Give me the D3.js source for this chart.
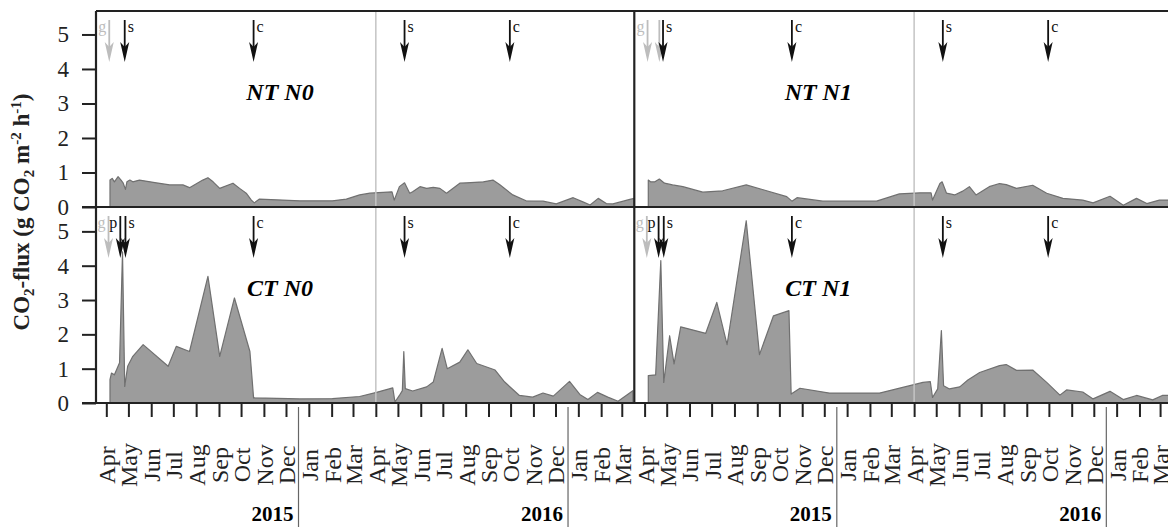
<!DOCTYPE html>
<html>
<head>
<meta charset="utf-8">
<script src="https://cdn.jsdelivr.net/npm/d3@7"></script>
<style>
	body { margin: 0; background: #fff; }
	svg { display: block; font-family: "Liberation Serif", "Times New Roman", serif; }
</style>
</head>
<body>
<svg id="chart" width="1168" height="527"></svg>
<script>
// sampling dates + CO2 flux (g CO2 m-2 h-1)
const ntN0Dates = ['2015-04-20','2015-04-23','2015-04-26','2015-05-01','2015-05-05','2015-05-08','2015-05-11','2015-05-13','2015-05-17','2015-05-21','2015-05-30','2015-06-22','2015-07-10','2015-07-28','2015-08-06','2015-08-24','2015-08-31','2015-09-07','2015-09-16','2015-10-04','2015-10-13','2015-10-22','2015-10-29','2015-11-02','2015-11-09','2016-01-03','2016-02-16','2016-03-06','2016-03-24','2016-04-07','2016-05-07','2016-05-10','2016-05-17','2016-05-24','2016-05-31','2016-06-04','2016-06-14','2016-06-23','2016-07-02','2016-07-11','2016-07-20','2016-08-07','2016-08-16','2016-09-08','2016-09-21','2016-09-30','2016-10-18','2016-11-05','2016-11-28','2016-12-16','2017-01-08','2017-01-22','2017-01-31','2017-02-11','2017-02-22','2017-03-03','2017-03-26','2017-04-01'];
const ntN0Flux = [0.78,0.83,0.73,0.88,0.78,0.69,0.51,0.73,0.78,0.73,0.78,0.70,0.64,0.64,0.56,0.78,0.85,0.73,0.54,0.69,0.54,0.40,0.20,0.12,0.23,0.18,0.18,0.23,0.35,0.40,0.44,0.20,0.59,0.70,0.40,0.44,0.59,0.54,0.57,0.54,0.40,0.69,0.70,0.73,0.78,0.65,0.35,0.18,0.17,0.09,0.27,0.14,0.06,0.25,0.10,0.09,0.22,0.25];

const ntN1Dates = ['2015-04-20','2015-04-23','2015-04-29','2015-05-05','2015-05-12','2015-05-23','2015-06-06','2015-07-03','2015-07-30','2015-08-31','2015-09-23','2015-10-25','2015-11-01','2015-11-08','2015-12-13','2016-02-24','2016-03-26','2016-04-23','2016-05-08','2016-05-10','2016-05-20','2016-05-23','2016-05-29','2016-06-09','2016-06-20','2016-06-29','2016-07-08','2016-07-26','2016-08-09','2016-08-18','2016-09-01','2016-09-23','2016-10-12','2016-11-03','2016-11-30','2016-12-14','2017-01-06','2017-01-24','2017-02-11','2017-02-25','2017-03-14','2017-03-31'];
const ntN1Flux = [0.78,0.73,0.73,0.81,0.69,0.64,0.59,0.43,0.47,0.64,0.50,0.30,0.17,0.27,0.17,0.17,0.38,0.41,0.41,0.20,0.68,0.73,0.40,0.35,0.46,0.59,0.35,0.59,0.68,0.65,0.54,0.63,0.40,0.25,0.20,0.12,0.31,0.05,0.25,0.10,0.20,0.20];

const ctN0Dates = ['2015-04-20','2015-04-22','2015-04-26','2015-05-03','2015-05-07','2015-05-10','2015-05-14','2015-05-21','2015-06-04','2015-07-08','2015-07-19','2015-08-06','2015-08-31','2015-09-16','2015-10-06','2015-10-27','2015-11-01','2016-01-03','2016-02-16','2016-03-24','2016-04-16','2016-05-08','2016-05-11','2016-05-17','2016-05-21','2016-05-23','2016-05-25','2016-06-04','2016-06-23','2016-07-02','2016-07-14','2016-07-21','2016-08-07','2016-08-18','2016-08-30','2016-09-24','2016-10-07','2016-10-27','2016-11-14','2016-11-28','2016-12-12','2017-01-03','2017-01-17','2017-01-28','2017-02-10','2017-02-24','2017-03-10','2017-03-30'];
const ctN0Flux = [0.68,0.87,0.82,1.17,4.40,0.48,1.07,1.36,1.70,1.07,1.65,1.50,3.69,1.36,3.06,1.50,0.15,0.12,0.13,0.19,0.31,0.44,0.03,0.22,0.36,1.50,0.42,0.35,0.47,0.61,1.59,1.00,1.19,1.55,1.15,0.96,0.61,0.22,0.17,0.29,0.20,0.63,0.25,0.10,0.31,0.17,0.05,0.36];

const ctN1Dates = ['2015-04-20','2015-04-30','2015-05-07','2015-05-11','2015-05-19','2015-05-25','2015-06-03','2015-07-07','2015-07-22','2015-08-05','2015-08-31','2015-09-18','2015-10-07','2015-10-28','2015-10-31','2015-11-12','2015-12-22','2016-02-28','2016-04-27','2016-05-07','2016-05-10','2016-05-17','2016-05-22','2016-05-25','2016-06-02','2016-06-16','2016-06-27','2016-07-13','2016-08-09','2016-08-18','2016-09-01','2016-09-23','2016-10-12','2016-10-30','2016-11-08','2016-11-30','2016-12-14','2017-01-06','2017-01-24','2017-02-11','2017-03-05','2017-03-18','2017-03-31'];
const ctN1Flux = [0.80,0.82,4.15,0.60,1.96,1.14,2.22,2.03,2.93,1.70,5.31,1.41,2.54,2.69,0.26,0.43,0.29,0.29,0.60,0.62,0.16,0.41,2.11,0.50,0.41,0.47,0.67,0.89,1.09,1.12,0.95,0.96,0.60,0.23,0.38,0.32,0.12,0.34,0.10,0.22,0.09,0.22,0.22];

// management events: g = glyphosate, p = ploughing, s = sowing, c = harvest, n = (unlabelled, grey)
const ntEventDates = ['2015-04-19','2015-05-10','2015-11-01','2016-05-24','2016-10-14'];
const ntEventTypes = ['g','s','c','s','c'];
const ntN1EventDates = ['2015-04-19','2015-05-05','2015-05-10','2015-11-01','2016-05-24','2016-10-14'];
const ntN1EventTypes = ['g','n','s','c','s','c'];
const ctEventDates = ['2015-04-18','2015-05-04','2015-05-11','2015-11-01','2016-05-24','2016-10-14'];
const ctEventTypes = ['g','p','s','c','s','c'];

const yTicks = [0, 1, 2, 3, 4, 5];
const yearBreaks = ['2016-01-01', '2017-01-01'];
const yearLabels = ['2015', '2016'];
const panelTitles = ['NT N0', 'NT N1', 'CT N0', 'CT N1'];

const parse = d3.timeParse('%Y-%m-%d');
const frame = {left: 96, top: 11, mid: 207, bottom: 403, panelW: 538.3};
const colX = [frame.left, frame.left + frame.panelW];

const x = d3.scaleTime()
	.domain([parse('2015-04-01'), parse('2017-04-01')])
	.range([0, frame.panelW]);
const yTop = d3.scaleLinear().domain([0, 5.68]).range([frame.mid, frame.top]);
const yBot = d3.scaleLinear().domain([0, 5.71]).range([frame.bottom, frame.mid]);

const zip = (dates, vals) => dates.map((d, i) => ({date: parse(d), v: vals[i]}));
const ev = (dates, types) => dates.map((d, i) => ({date: parse(d), type: types[i]}));

const panels = [
	{title: panelTitles[0], col: 0, y: yTop, top: frame.top, data: zip(ntN0Dates, ntN0Flux), events: ev(ntEventDates, ntEventTypes)},
	{title: panelTitles[1], col: 1, y: yTop, top: frame.top, data: zip(ntN1Dates, ntN1Flux), events: ev(ntN1EventDates, ntN1EventTypes)},
	{title: panelTitles[2], col: 0, y: yBot, top: frame.mid, data: zip(ctN0Dates, ctN0Flux), events: ev(ctEventDates, ctEventTypes)},
	{title: panelTitles[3], col: 1, y: yBot, top: frame.mid, data: zip(ctN1Dates, ctN1Flux), events: ev(ctEventDates, ctEventTypes)},
];

const svg = d3.select('#chart');
const defs = svg.append('defs');

colX.forEach((cx, i) => {
	defs.append('clipPath').attr('id', 'clip' + i)
		.append('rect')
		.attr('x', 0).attr('y', frame.top)
		.attr('width', frame.panelW).attr('height', frame.bottom - frame.top);
});

const ARROW_GREY = '#bdbdbd';

panels.forEach(p => {
	const g = svg.append('g').attr('transform', `translate(${colX[p.col]},0)`);
	const body = g.append('g').attr('clip-path', `url(#clip${p.col})`);

	const area = d3.area()
		.x(d => x(d.date))
		.y0(p.y(0))
		.y1(d => p.y(d.v));

	body.append('path')
		.datum(p.data)
		.attr('d', area)
		.attr('fill', '#9c9c9c')
		.attr('stroke', '#707070')
		.attr('stroke-width', 1.2)
		.attr('stroke-linejoin', 'round');

	// grey line at the start of the second season
	body.append('line')
		.attr('x1', x(parse('2016-04-15'))).attr('x2', x(parse('2016-04-15')))
		.attr('y1', p.top).attr('y2', p.top + 196)
		.attr('stroke', '#c4c4c4')
		.attr('stroke-width', 1.5);

	// management arrows
	p.events.forEach(e => {
		const px = x(e.date);
		const t = p.top;
		const col = (e.type === 'g' || e.type === 'n') ? ARROW_GREY : '#111';
		g.append('line')
			.attr('x1', px).attr('x2', px)
			.attr('y1', t + 9).attr('y2', t + 42)
			.attr('stroke', col).attr('stroke-width', 1.8);
		g.append('path')
			.attr('d', `M${px - 4.5},${t + 31}L${px},${t + 51}L${px + 4.5},${t + 31}L${px},${t + 36}Z`)
			.attr('fill', col);
		if (e.type === 'n') return;
		const leftSide = e.type === 'g' || e.type === 'p';
		g.append('text')
			.attr('x', leftSide ? px - 3 : px + 3)
			.attr('y', t + 21)
			.attr('text-anchor', leftSide ? 'end' : 'start')
			.attr('font-size', 16)
			.attr('fill', col)
			.text(e.type);
	});

	g.append('text')
		.attr('x', 184)
		.attr('y', p.top + 89)
		.attr('text-anchor', 'middle')
		.attr('font-size', 24)
		.attr('font-weight', 'bold')
		.attr('font-style', 'italic')
		.text(p.title);
});

// y axes (left column only)
[yTop, yBot].forEach(y => {
	svg.append('g')
		.attr('transform', `translate(${frame.left},0)`)
		.call(d3.axisLeft(y).tickValues(yTicks).tickSize(14).tickPadding(13).tickFormat(d3.format('d')))
		.call(a => a.select('.domain').remove())
		.call(a => a.selectAll('line').attr('stroke', '#222').attr('stroke-width', 2))
		.call(a => a.selectAll('text')
			.attr('font-family', '"Liberation Serif", serif')
			.attr('font-size', 23)
			.attr('fill', '#222'));
});

// x axes: mid-month ticks, rotated month names
const midMonths = d3.timeMonth.range(parse('2015-04-01'), parse('2017-04-01')).map(d => d3.timeDay.offset(d, 14));

colX.forEach(cx => {
	const ax = svg.append('g')
		.attr('transform', `translate(${cx},${frame.bottom})`)
		.call(d3.axisBottom(x).tickValues(midMonths).tickSize(14).tickFormat(d3.timeFormat('%b')));
	ax.select('.domain').remove();
	ax.selectAll('line').attr('stroke', '#222').attr('stroke-width', 2);
	ax.selectAll('text')
		.attr('font-family', '"Liberation Serif", serif')
		.attr('font-size', 24)
		.attr('fill', '#222')
		.attr('transform', 'rotate(-90)')
		.attr('text-anchor', 'middle')
		.attr('x', -62)
		.attr('y', 0)
		.attr('dy', '0.35em');

	yearBreaks.forEach((b, i) => {
		const bx = cx + x(parse(b));
		svg.append('line')
			.attr('x1', bx).attr('x2', bx)
			.attr('y1', frame.bottom + 4).attr('y2', 527)
			.attr('stroke', '#666').attr('stroke-width', 1.2);
		svg.append('text')
			.attr('x', bx - 5).attr('y', 521)
			.attr('text-anchor', 'end')
			.attr('font-size', 21)
			.attr('font-weight', 'bold')
			.text(yearLabels[i]);
	});
});

// frame lines
const frameLines = [
	[frame.left, frame.top, 1168, frame.top],
	[frame.left - 14, frame.mid, 1168, frame.mid],
	[frame.left - 14, frame.bottom, 1168, frame.bottom],
	[frame.left, frame.top, frame.left, frame.bottom],
	[colX[1], frame.top, colX[1], frame.bottom]
];
svg.append('g').selectAll('line')
	.data(frameLines)
	.join('line')
	.attr('x1', d => d[0]).attr('y1', d => d[1])
	.attr('x2', d => d[2]).attr('y2', d => d[3])
	.attr('stroke', '#222')
	.attr('stroke-width', 2.2);

// y title
const yt = svg.append('text')
	.attr('transform', 'translate(29,212) rotate(-90)')
	.attr('text-anchor', 'middle')
	.attr('font-size', 23)
	.attr('font-weight', 'bold')
	.attr('fill', '#222');
yt.append('tspan').text('CO');
yt.append('tspan').attr('dy', 5).attr('font-size', 15).text('2');
yt.append('tspan').attr('dy', -5).text('-flux (g CO');
yt.append('tspan').attr('dy', 5).attr('font-size', 15).text('2');
yt.append('tspan').attr('dy', -5).text(' m');
yt.append('tspan').attr('dy', -8).attr('font-size', 15).text('-2');
yt.append('tspan').attr('dy', 8).text(' h');
yt.append('tspan').attr('dy', -8).attr('font-size', 15).text('-1');
yt.append('tspan').attr('dy', 8).text(')');
</script>
</body>
</html>
